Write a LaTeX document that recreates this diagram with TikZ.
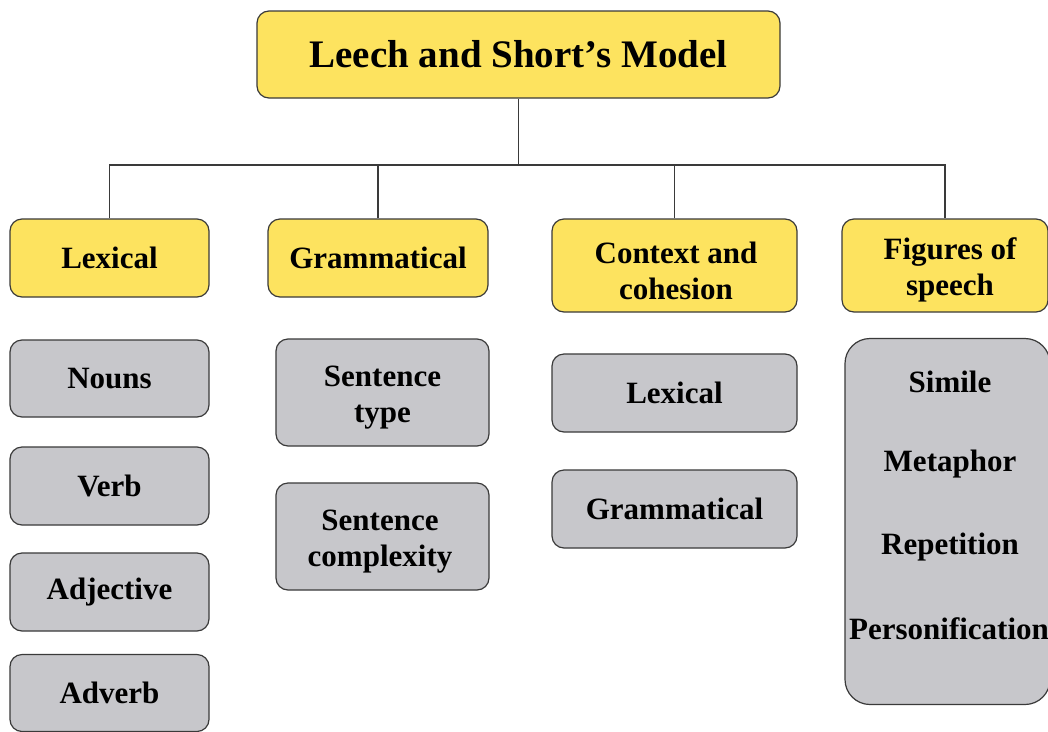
\documentclass[tikz,border=0pt]{standalone}
\usepackage{fontspec}
\setmainfont{Liberation Serif}
\definecolor{yfill}{HTML}{FDE35F}
\definecolor{gfill}{HTML}{C7C7CB}
\definecolor{edgec}{HTML}{3A3A3A}
\tikzset{
  basebox/.style={draw=edgec, line width=1.2pt, rounded corners=12pt, align=center,
    inner sep=0pt, font=\fontsize{31}{36}\selectfont\bfseries},
  ybox/.style={basebox, fill=yfill},
  gbox/.style={basebox, fill=gfill},
  plaintext/.style={inner sep=0pt, align=center, font=\fontsize{31}{36}\selectfont\bfseries},
  link/.style={draw=edgec, line width=1.3pt}
}
\begin{document}
\begin{tikzpicture}[x=1pt,y=-1pt]
\useasboundingbox (0,0) rectangle (1048,731);
\fill[white] (0,0) rectangle (1048,731);

\node[ybox, minimum width=523pt, minimum height=87pt,
      font=\fontsize{39}{45}\selectfont\bfseries] (title) at (518.5,54.5) {Leech and Short’s Model};

\node[ybox, minimum width=199pt, minimum height=78pt] (lex) at (109.5,258) {Lexical};
\node[ybox, minimum width=220pt, minimum height=78pt] (gram) at (378,258) {Grammatical};
\node[ybox, minimum width=245pt, minimum height=93pt] (ctx) at (674.5,265.5) {};
\node[plaintext] (ctxlbl) at (676,271) {Context and\\cohesion};
\node[ybox, minimum width=206pt, minimum height=93pt] (fig) at (945,265.5) {};
\node[plaintext] (figlbl) at (950,270) {Figures of\\speech};

\node[gbox, minimum width=199pt, minimum height=77pt] (nouns) at (109.5,378.5) {Nouns};
\node[gbox, minimum width=199pt, minimum height=78pt] (verb) at (109.5,486) {Verb};
\node[gbox, minimum width=199pt, minimum height=78pt] (adj) at (109.5,592) {Adjective};
\node[gbox, minimum width=199pt, minimum height=77pt] (adv) at (109.5,693) {Adverb};

\node[gbox, minimum width=213pt, minimum height=107pt] (stype) at (382.5,392.5) {};
\node[plaintext] (stypelbl) at (382.5,398) {Sentence\\type};
\node[gbox, minimum width=213pt, minimum height=107pt] (scomp) at (382.5,536.5) {};
\node[plaintext] (scomplbl) at (380,542) {Sentence\\complexity};

\node[gbox, minimum width=245pt, minimum height=78pt] (clex) at (674.5,393) {Lexical};
\node[gbox, minimum width=245pt, minimum height=78pt] (cgram) at (674.5,509) {Grammatical};

\node[gbox, rounded corners=25pt, minimum width=205pt, minimum height=366pt] (figbox) at (947.5,521.5) {};
\node[plaintext] (simile) at (950,382) {Simile};
\node[plaintext] (metaphor) at (950,464) {Metaphor};
\node[plaintext] (repetition) at (950,547) {Repetition};
\node[plaintext] (personif) at (949,629) {Personification};

\coordinate (bus) at (518.5,165);
\draw[link] (title.south) -- (bus);
\draw[link] (lex.north) |- (bus) -| (fig.north);
\draw[link] (gram.north) -- (gram.north |- bus);
\draw[link] (ctx.north) -- (ctx.north |- bus);
\end{tikzpicture}
\end{document}
